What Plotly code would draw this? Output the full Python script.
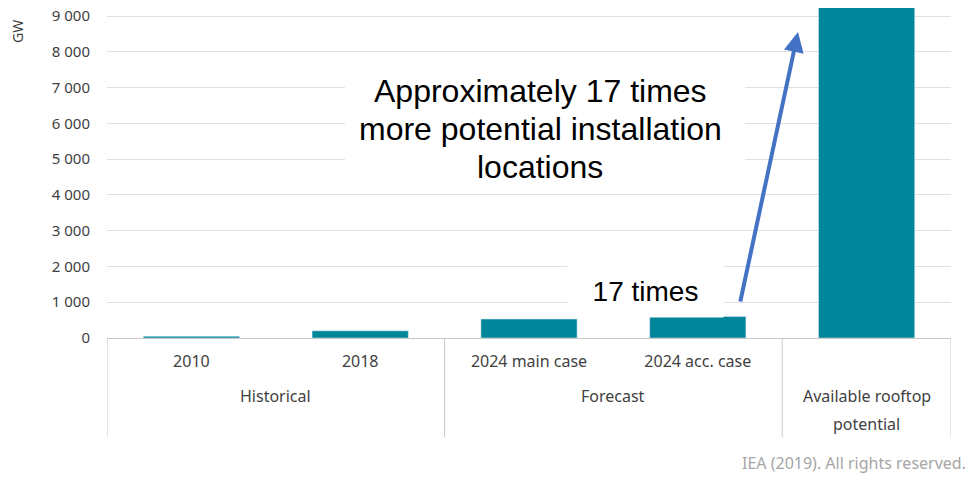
import plotly.graph_objects as go

categories = ["2010", "2018", "2024 main case", "2024 acc. case", "Available rooftop potential"]
tick_labels = ["2010", "2018", "2024 main case", "2024 acc. case", ""]
values_gw = [50, 200, 530, 600, 9300]
group_labels = ["Historical", "Forecast", "Available rooftop<br>potential"]
group_centers = [0.5, 2.5, 4]
group_dividers = [-0.5, 1.5, 3.5, 4.5]
y_ticks = [0, 1000, 2000, 3000, 4000, 5000, 6000, 7000, 8000, 9000]
callout_lines = ["Approximately 17 times", "more potential installation", "locations"]

BAR = "#00869b"
LABEL = "#3f3f3f"
UIFONT = "Noto Sans"

# the page has an 8px body margin: layout below is in page pixels minus 8
PH = 330.0             # plot height in px
PXU = 322.0 / 9000     # px per GW


def py(page_y):      # page pixel y -> paper y
    return (338 - page_y) / PH


def px(page_x):      # page pixel x -> paper x
    return (page_x - 107) / 844.0


def dy(page_y):      # page pixel y -> data y
    return (338 - page_y) / PXU


def dx(page_x):      # page pixel x -> category index
    return (page_x - 107) / 168.8 - 0.5


fig = go.Figure(
    go.Bar(x=categories, y=values_gw, marker_color=BAR, width=0.57, hoverinfo="skip")
)

fig.update_layout(
    width=965, height=469,
    margin=dict(l=99, r=22, t=0, b=139, autoexpand=False),
    paper_bgcolor="white", plot_bgcolor="white",
    separators=". ",
    showlegend=False,
    xaxis=dict(
        type="category", range=[-0.5, 4.5],
        tickvals=categories, ticktext=tick_labels,
        showline=True, linecolor="#c8c8c8", linewidth=1,
        ticks="", showgrid=False,
        tickfont=dict(family=UIFONT, size=16, color=LABEL),
        ticklabelstandoff=9,
    ),
    yaxis=dict(
        range=[0, PH / PXU], tickvals=y_ticks, tickformat=",d",
        showgrid=True, gridcolor="#e0e0e0", gridwidth=1,
        zeroline=False, showline=False, automargin=False,
        ticks="", ticklabelstandoff=16, ticklabeloverflow="allow",
        tickfont=dict(family=UIFONT, size=15, color=LABEL),
    ),
)

# group divider lines below the axis
for xv in group_dividers:
    fig.add_shape(type="line", xref="x", yref="paper", x0=xv, x1=xv,
                  y0=0, y1=py(437), line=dict(color="#c8c8c8", width=1))

# group labels (each line placed separately)
for lab, xc in zip(group_labels, group_centers):
    for i, line in enumerate(lab.split("<br>")):
        fig.add_annotation(text=line, xref="x", yref="paper", x=xc,
                           y=py(396 + 28 * i), showarrow=False,
                           xanchor="center", yanchor="middle",
                           font=dict(family=UIFONT, size=16, color=LABEL))

# GW unit label
fig.add_annotation(text="GW", xref="paper", yref="paper", x=px(17), y=py(32),
                   textangle=-90, showarrow=False, xanchor="center", yanchor="middle",
                   font=dict(family=UIFONT, size=14, color=LABEL))

# main callout: white box + three lines
fig.add_shape(type="rect", xref="x", yref="y", x0=dx(345), x1=dx(745),
              y0=dy(190), y1=dy(68), fillcolor="white", line=dict(width=0),
              layer="above")
for i, line in enumerate(callout_lines):
    fig.add_annotation(text=line, xref="x", yref="y", x=dx(540), y=dy(91 + 38 * i),
                       showarrow=False, xanchor="center", yanchor="middle",
                       font=dict(family="Liberation Sans", size=32, color="black"))

# "17 times" label
fig.add_annotation(text="17 times", xref="x", yref="y", x=dx(645), y=dy(291),
                   showarrow=False, xanchor="center", yanchor="middle",
                   bgcolor="white", width=153, height=49,
                   font=dict(family="Liberation Sans", size=28, color="black"))

# arrow
fig.add_annotation(text="", xref="x", yref="y", x=dx(798), y=dy(32),
                   axref="x", ayref="y", ax=dx(740), ay=dy(303),
                   showarrow=True, arrowhead=2, arrowsize=1, arrowwidth=4,
                   arrowcolor="#4472C4", standoff=0, startstandoff=0)

# source note
fig.add_annotation(text="IEA (2019). All rights reserved.", xref="paper", yref="paper",
                   x=px(968), y=py(463), showarrow=False,
                   xanchor="right", yanchor="middle",
                   font=dict(family=UIFONT, size=16, color="#a6a6a6"))

fig.write_html("out.html")
